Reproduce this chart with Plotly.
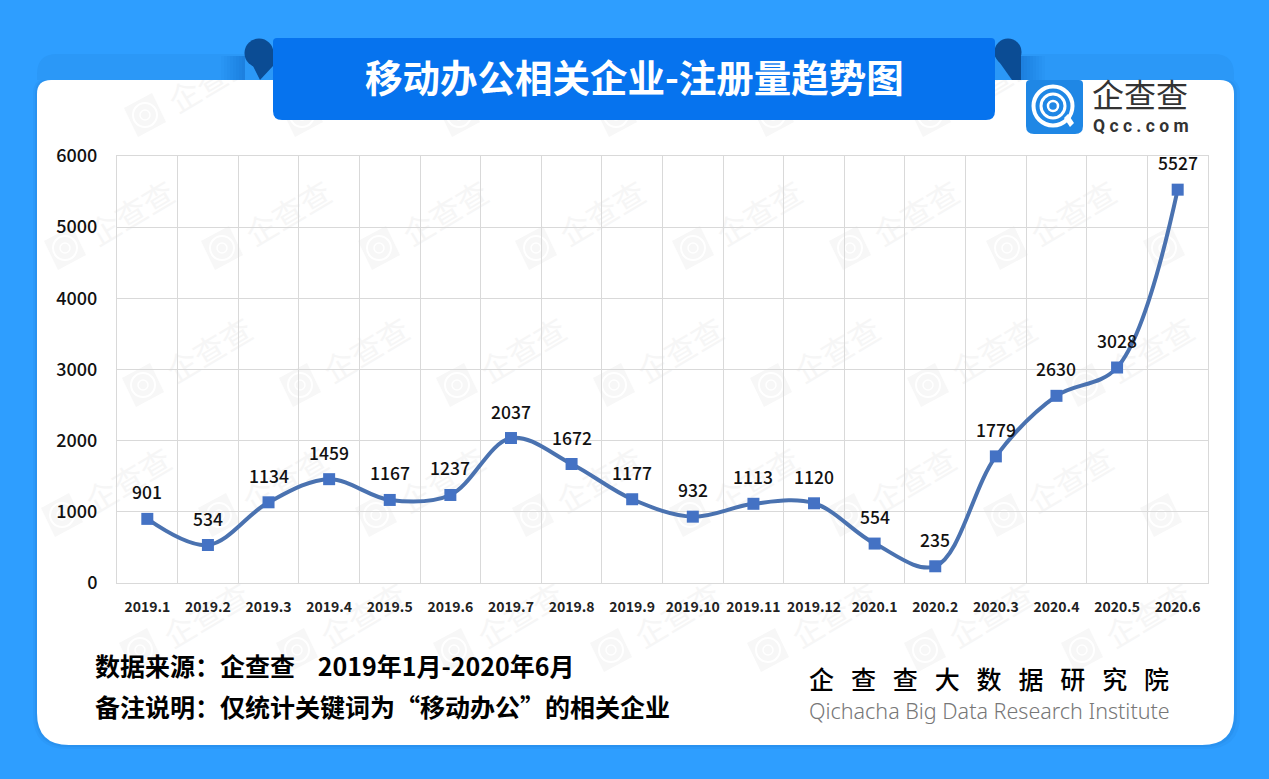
import plotly.graph_objects as go

W = 1269
H = 779

months = ['2019.1', '2019.2', '2019.3', '2019.4', '2019.5', '2019.6', '2019.7', '2019.8', '2019.9',
          '2019.10', '2019.11', '2019.12', '2020.1', '2020.2', '2020.3', '2020.4', '2020.5', '2020.6']
counts = [901, 534, 1134, 1459, 1167, 1237, 2037, 1672, 1177, 932, 1113, 1120, 554, 235, 1779, 2630, 3028, 5527]
yTicks = [0, 1000, 2000, 3000, 4000, 5000, 6000]

titleText = '移动办公相关企业-注册量趋势图'
sourceText = '数据来源：企查查 \u00a0\u00a0 2019年1月-2020年6月'
noteText = '备注说明：仅统计关键词为“移动办公”的相关企业'
instituteCn = '\u00a0\u00a0\u00a0'.join('企查查大数据研究院')
instituteEn = 'Qichacha Big Data Research Institute'
logoCn = '企查查'
logoEn = '\u00a0'.join('Qcc.com')
watermark = '企查查'

cjk = 'Noto Sans CJK SC'
bgBlue = '#2e9eff'


# pixel position -> paper coordinates, plot area is 117..1208 / 156..583
def px(x):
    return (x - 117) / (1208 - 117)


def py(y):
    return (583 - y) / (583 - 156)


def rect(x0, y0, x1, y1, color, opacity=1):
    return dict(type='rect', xref='paper', yref='paper', x0=px(x0), x1=px(x1), y0=py(y0), y1=py(y1),
                fillcolor=color, opacity=opacity, line=dict(width=0), layer='below')


def circle(cx, cy, r, fill='rgba(0,0,0,0)', lineColor='rgba(0,0,0,0)', lineWidth=0):
    return dict(type='circle', xref='paper', yref='paper', x0=px(cx - r), x1=px(cx + r), y0=py(cy + r), y1=py(cy - r),
                fillcolor=fill, line=dict(width=lineWidth, color=lineColor), layer='below')


def polygon(points, color, opacity=1):
    path = 'M ' + ' L '.join(f'{px(x)},{py(y)}' for x, y in points) + ' Z'
    return dict(type='path', xref='paper', yref='paper', path=path, fillcolor=color, opacity=opacity,
                line=dict(width=0), layer='below')


def roundedBox(x0, y0, x1, y1, rTop, rBottom, color, opacity=1):
    # rounded rect as svg path in paper coords
    path = (f'M {px(x0 + rTop)},{py(y0)} L {px(x1 - rTop)},{py(y0)} '
            f'Q {px(x1)},{py(y0)} {px(x1)},{py(y0 + rTop)} '
            f'L {px(x1)},{py(y1 - rBottom)} Q {px(x1)},{py(y1)} {px(x1 - rBottom)},{py(y1)} '
            f'L {px(x0 + rBottom)},{py(y1)} Q {px(x0)},{py(y1)} {px(x0)},{py(y1 - rBottom)} '
            f'L {px(x0)},{py(y0 + rTop)} Q {px(x0)},{py(y0)} {px(x0 + rTop)},{py(y0)} Z')
    return dict(type='path', xref='paper', yref='paper', path=path, fillcolor=color, opacity=opacity,
                line=dict(width=0), layer='below')


shapes = []

# white card with a soft shadow
shapes.append(roundedBox(33, 78, 1240, 749, 16, 34, '#1f7fd8', 0.15))
shapes.append(roundedBox(35, 79, 1237, 747, 15, 33, '#1f7fd8', 0.25))
shapes.append(roundedBox(37, 80, 1234, 745, 14, 32, '#ffffff'))

# watermark grid, staggered rows
wmRows = [(115, 145), (248, 65), (385, 143), (515, 62), (650, 140)]
for rowY, rowX in wmRows:
    for i in range(8):
        wx = rowX + 157 * i
        if wx > 1200 or (rowY == 115 and wx > 1000):
            continue
        shapes.append(polygon([(wx - 21, rowY - 7), (wx + 7, rowY - 22), (wx + 21, rowY + 7), (wx - 7, rowY + 22)],
                              '#f7f7f7'))
        shapes.append(circle(wx, rowY, 12, lineColor='#ffffff', lineWidth=2))
        shapes.append(circle(wx, rowY, 5, lineColor='#ffffff', lineWidth=1.5))
        # text would run past the card on the last column
        if wx < 1110:
            label = rect(wx + 63, rowY - 37, wx + 73, rowY - 27, 'rgba(0,0,0,0)')
            label['label'] = dict(text=watermark, textangle=-31, textposition='middle center',
                                  font=dict(size=31, color='#f6f6f6', family=cjk))
            shapes.append(label)

# blue cover above the card, then the darker band behind the ribbon
shapes.append(rect(0, 0, W, 78, bgBlue))
shapes.append(roundedBox(37, 54, 1234, 80, 20, 0, '#2b98f7'))
for i in range(8):
    shapes.append(rect(245 - 3 * (i + 1), 56, 245, 80, '#0b4c94', 0.03))
    shapes.append(rect(1021, 56, 1021 + 3 * (i + 1), 80, '#0b4c94', 0.03))

# folded ribbon ends
shapes.append(circle(259, 53, 14.5, fill='#0b4c94'))
shapes.append(polygon([(245, 56), (273, 56), (273, 66), (260, 80), (253, 66)], '#0b4c94'))
shapes.append(circle(1008, 52, 13.5, fill='#0b4c94'))
shapes.append(polygon([(995, 56), (1021, 56), (1021, 80), (1012, 80)], '#0b4c94'))
shapes.append(roundedBox(273, 38, 995, 120, 4, 9, '#0673ee'))

# logo square with the Q rings
shapes.append(roundedBox(1026, 80, 1083, 134, 4, 8, '#1f87e5'))
shapes.append(circle(1053, 106, 19.5, lineColor='#ffffff', lineWidth=4))
shapes.append(circle(1053, 106, 12, lineColor='#ffffff', lineWidth=3))
shapes.append(circle(1053, 106, 5, lineColor='#ffffff', lineWidth=2.5))
shapes.append(polygon([(1064, 118), (1068, 114), (1074, 123), (1070, 127)], '#ffffff'))

annotations = []


def addText(x, y, text, size, color='#000000', family=cjk, anchor='left', weight=400):
    annotations.append(dict(xref='paper', yref='paper', x=px(x), y=py(y), text=text, showarrow=False,
                            xanchor=anchor, yanchor='middle',
                            font=dict(size=size, color=color, family=family, weight=weight)))


addText(634, 75, titleText, 37.5, color='#ffffff', anchor='center', weight=700)
addText(1090, 93, logoCn, 32, color='#333333')
addText(1091, 126, logoEn, 17.5, color='#333333', family='Roboto', weight=700)
addText(93, 665, sourceText, 25, weight=700)
addText(93, 706, noteText, 25, weight=700)
addText(989, 678, instituteCn, 25, anchor='center', weight=500)
addText(989, 710, instituteEn, 21.5, color='#777777', family='Noto Sans', anchor='center', weight=300)

# value labels sit well above the markers
for i, c in enumerate(counts):
    annotations.append(dict(xref='x', yref='y', x=i, y=c, yshift=27, text=str(c), showarrow=False,
                            yanchor='middle', font=dict(size=17.5, color='#111111', family=cjk, weight=500)))

fig = go.Figure()
fig.add_trace(go.Scatter(x=months, y=counts, mode='lines+markers',
                         line=dict(color='#4a72b0', width=4, shape='spline', smoothing=1.0),
                         marker=dict(symbol='square', size=12, color='#4472c4'),
                         cliponaxis=False, hoverinfo='x+y'))

fig.update_layout(
    width=W, height=H,
    margin=dict(l=117, r=W - 1208, t=156, b=H - 583),
    paper_bgcolor=bgBlue,
    plot_bgcolor='rgba(0,0,0,0)',
    showlegend=False,
    shapes=shapes,
    annotations=annotations,
    font=dict(family=cjk),
)
fig.update_xaxes(type='category', categoryorder='array', categoryarray=months, tickson='boundaries',
                 showgrid=True, gridcolor='#d9d9d9', gridwidth=1, zeroline=False, showline=True,
                 linecolor='#d9d9d9', mirror=True, ticks='', range=[-0.5, 17.5], tickangle=0,
                 tickfont=dict(size=14, color='#222222', family=cjk, weight=700), ticklabelstandoff=11)
fig.update_yaxes(range=[0, 6000], tickvals=yTicks, showgrid=True, gridcolor='#d9d9d9', gridwidth=1,
                 zeroline=False, showline=True, linecolor='#d9d9d9', mirror=True, ticks='',
                 tickfont=dict(size=18, color='#111111', family=cjk, weight=500), ticklabelstandoff=15)

fig.write_html('out.html', config=dict(displayModeBar=False), post_script="document.body.style.margin='0';")
